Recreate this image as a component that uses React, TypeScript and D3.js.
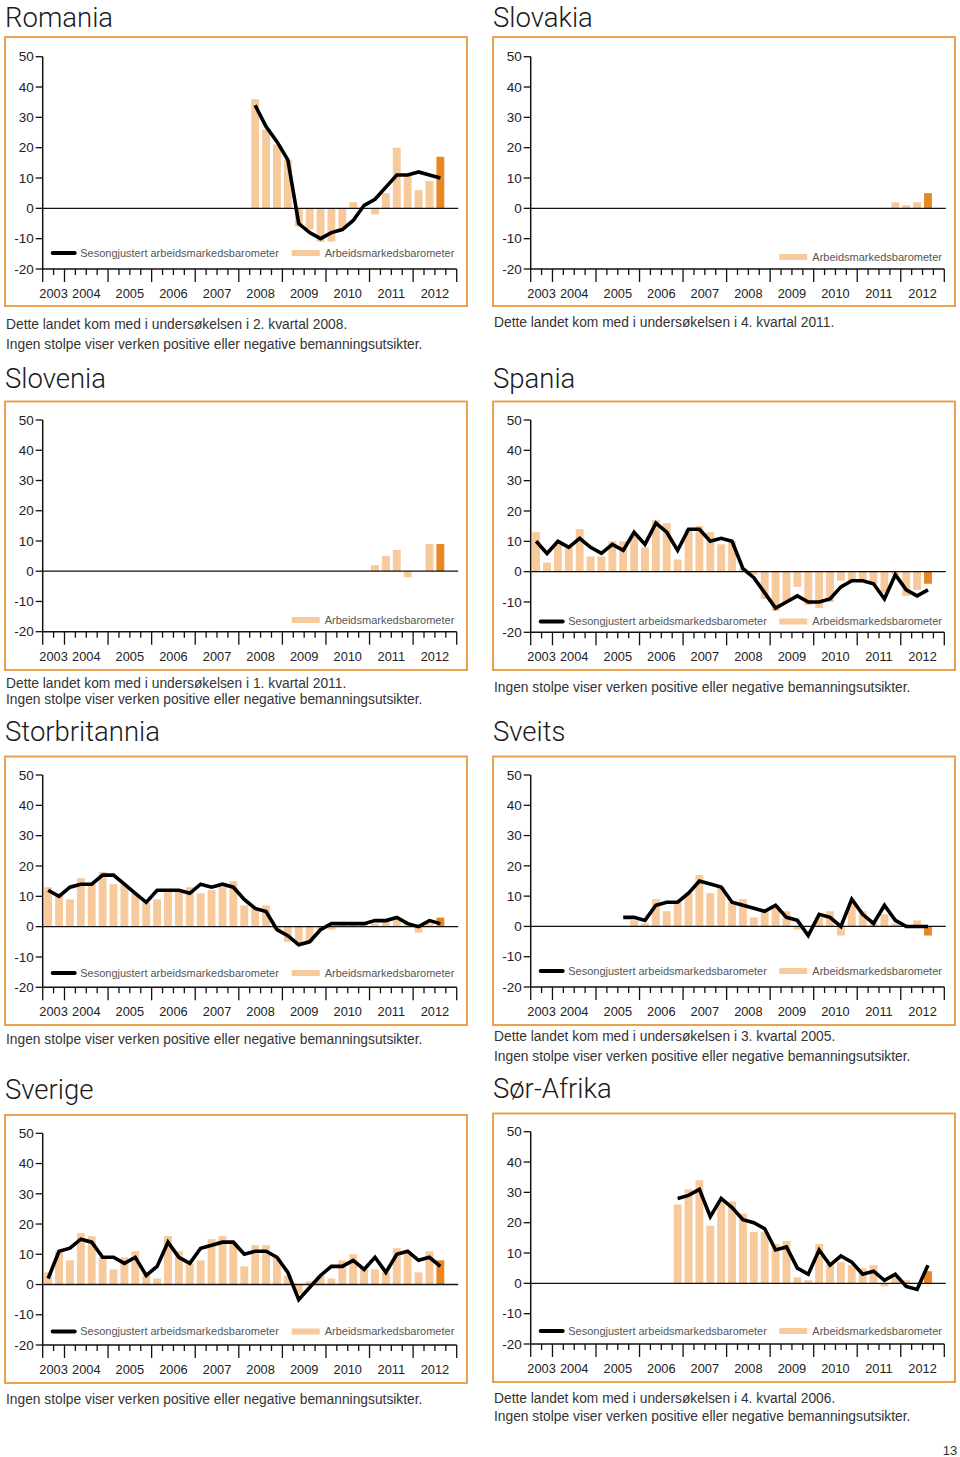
import React from 'react';
import * as d3 from 'd3';

// ---------- shared axis data ----------
const years = ['2003', '2004', '2005', '2006', '2007', '2008', '2009', '2010', '2011', '2012'];
const yearStartSlots = [0, 2, 6, 10, 14, 18, 22, 26, 30, 34, 38];
const yTicks = [50, 40, 30, 20, 10, 0, -10, -20];
const slotCount = 38;

// ---------- series (values per quarter, start = first quarter index) ----------
const romaniaStart = 19;
const romaniaBars = [36, 26, 21, 16, -6, -7, -11, -11, -7, 2, 0, -2, 5, 20, 11, 6, 9, 17];
const romaniaLine = [34, 27, 22, 16, -5, -8, -10, -8, -7, -4, 1, 3, 7, 11, 11, 12, 11, 10];

const slovakiaStart = 33;
const slovakiaBars = [2, 1, 2, 5];

const sloveniaStart = 30;
const sloveniaBars = [2, 5, 7, -2, 0, 9, 9];

const spaniaStart = 0;
const spaniaBars = [13, 3, 9, 8, 14, 5, 5, 10, 10, 12, 8, 17, 16, 4, 14, 15, 13, 9, 10, 1, -1, -9, -13, -10, -5, -11, -12, -10, -3, -3, -3, -4, -7, -1, -8, -6, -4];
const spaniaLine = [10, 6, 10, 8, 11, 8, 6, 9, 7, 13, 9, 16, 13, 7, 14, 14, 10, 11, 10, 1, -2, -7, -12, -10, -8, -10, -10, -9, -5, -3, -3, -4, -9, -1, -6, -8, -6];

const ukStart = 0;
const ukBars = [13, 11, 9, 16, 14, 18, 14, 14, 11, 8, 9, 12, 12, 13, 11, 12, 13, 15, 7, 6, 7, -1, -5, -6, -5, -1, -1, 1, 1, 1, 1, 2, 3, 1, -2, 1, 3];
const ukLine = [12, 10, 13, 14, 14, 17, 17, 14, 11, 8, 12, 12, 12, 11, 14, 13, 14, 13, 9, 6, 5, -1, -3, -6, -5, -1, 1, 1, 1, 1, 2, 2, 3, 1, 0, 2, 1];

const sveitsStart = 8;
const sveitsBars = [0, 2, 1, 9, 5, 8, 11, 17, 11, 13, 8, 9, 3, 5, 7, 5, -1, 0, 3, 5, -3, 8, 5, 1, 4, 1, 0, 2, -3];
const sveitsLine = [3, 3, 2, 7, 8, 8, 11, 15, 14, 13, 8, 7, 6, 5, 7, 3, 2, -3, 4, 3, 0, 9, 4, 1, 7, 2, 0, 0, 0];

const sverigeStart = 0;
const sverigeBars = [4, 11, 8, 17, 16, 9, 5, 9, 11, 3, 2, 16, 11, 7, 8, 15, 16, 14, 6, 13, 13, 9, 3, -3, 1, 3, 2, 8, 10, 5, 5, 4, 12, 11, 4, 11, 8];
const sverigeLine = [2, 11, 12, 15, 14, 9, 9, 7, 9, 3, 6, 14, 9, 7, 12, 13, 14, 14, 10, 11, 11, 9, 4, -5, -1, 3, 6, 6, 8, 5, 9, 4, 10, 11, 8, 9, 6];

const sorAfrikaStart = 13;
const sorAfrikaBars = [26, 31, 34, 19, 27, 27, 23, 17, 17, 13, 14, 2, 1, 13, 6, 7, 6, 5, 6, -1, 2, 1, 0, 4];
const sorAfrikaLine = [28, 29, 31, 22, 28, 25, 21, 20, 18, 11, 12, 5, 3, 11, 6, 9, 7, 3, 4, 1, 3, -1, -2, 6];

// ---------- texts ----------
const legendLineLabel = 'Sesongjustert arbeidsmarkedsbarometer';
const legendBarLabel = 'Arbeidsmarkedsbarometer';
const noteNone = 'Ingen stolpe viser verken positive eller negative bemanningsutsikter.';
const noteJoined = (q: string) => `Dette landet kom med i undersøkelsen i ${q}`;

const FONT = '"Liberation Sans", Arial, Helvetica, sans-serif';
const TITLE_FONT = 'Roboto, "Liberation Sans", Arial, sans-serif';
const BAR = '#f8c99b';
const BAR_LAST = '#e8861f';
const FRAME = '#eaa24e';

type Col = { boxL: number; boxR: number; axL: number; axR: number; titleX: number };
const LEFT: Col = { boxL: 5, boxR: 467, axL: 42.7, axR: 456.7, titleX: 5 };
const RIGHT: Col = { boxL: 493, boxR: 955, axL: 530.7, axR: 944.3, titleX: 493 };

type PanelProps = {
  title: string;
  col: Col;
  titleY: number;
  boxTop: number;
  boxBottom: number;
  yTop: number;
  yBottom: number;
  legendY: number;
  start: number;
  bars: number[];
  line?: number[];
  notes: { text: string; y: number }[];
};

function Panel(p: PanelProps) {
  const { col } = p;
  const x = d3.scaleLinear().domain([0, slotCount]).range([col.axL, col.axR]);
  const y = d3.scaleLinear().domain([-20, 50]).range([p.yBottom, p.yTop]);
  const slotW = x(1) - x(0);
  const barW = slotW * 0.72;
  const lastIdx = 36;

  const lineGen = d3
    .line<number>()
    .x((_, i) => x(p.start + i + 0.5))
    .y((v) => y(v));

  const ticks: { x: number; major: boolean }[] = [];
  for (let s = 0; s <= slotCount; s++) {
    ticks.push({ x: x(s), major: yearStartSlots.includes(s) });
  }

  const legendTextBar = col.axR - 132;
  return (
    <g>
      <text x={col.titleX} y={p.titleY} fontFamily={TITLE_FONT} fontWeight={300} fontSize={27.5} fill="#1a1a1a">
        {p.title}
      </text>
      <rect
        x={col.boxL}
        y={p.boxTop}
        width={col.boxR - col.boxL}
        height={p.boxBottom - p.boxTop}
        fill="#fff"
        stroke={FRAME}
        strokeWidth={2}
      />
      {/* bars */}
      {p.bars.map((v, i) => {
        const slot = p.start + i;
        if (v === 0) return null;
        const cx = x(slot + 0.5);
        return (
          <rect
            key={i}
            x={cx - barW / 2}
            y={Math.min(y(v), y(0))}
            width={barW}
            height={Math.abs(y(v) - y(0))}
            fill={slot === lastIdx ? BAR_LAST : BAR}
          />
        );
      })}
      {/* zero line */}
      <line x1={col.axL} x2={col.axR + 1.5} y1={y(0)} y2={y(0)} stroke="#111" strokeWidth={1.3} />
      {/* y axis */}
      <line x1={col.axL} x2={col.axL} y1={y(50)} y2={y(-20)} stroke="#111" strokeWidth={1.5} />
      {yTicks.map((t) => (
        <g key={t}>
          <line x1={col.axL - 7} x2={col.axL} y1={y(t)} y2={y(t)} stroke="#111" strokeWidth={1.3} />
          <text
            x={col.axL - 9}
            y={y(t)}
            dy="0.35em"
            textAnchor="end"
            fontFamily={FONT}
            fontSize={13.5}
            fill="#222"
          >
            {t}
          </text>
        </g>
      ))}
      {/* x axis */}
      <line x1={col.axL} x2={col.axR} y1={y(-20)} y2={y(-20)} stroke="#111" strokeWidth={1.5} />
      {ticks.map((t, i) => (
        <line
          key={i}
          x1={t.x}
          x2={t.x}
          y1={y(-20)}
          y2={y(-20) + (t.major ? 13 : 6)}
          stroke="#111"
          strokeWidth={1.3}
        />
      ))}
      {years.map((yr, i) => (
        <text
          key={yr}
          x={(x(yearStartSlots[i]) + x(yearStartSlots[i + 1])) / 2}
          y={y(-20) + 29}
          textAnchor="middle"
          fontFamily={FONT}
          fontSize={12.8}
          fill="#222"
        >
          {yr}
        </text>
      ))}
      {/* line */}
      {p.line && (
        <path d={lineGen(p.line) || ''} fill="none" stroke="#000" strokeWidth={3.6} strokeLinejoin="miter" />
      )}
      {/* legend */}
      {p.line && (
        <g>
          <line
            x1={col.axL + 10}
            x2={col.axL + 32}
            y1={p.legendY}
            y2={p.legendY}
            stroke="#000"
            strokeWidth={4}
            strokeLinecap="round"
          />
          <text x={col.axL + 37.5} y={p.legendY} dy="0.35em" fontFamily={FONT} fontSize={11} fill="#555">
            {legendLineLabel}
          </text>
        </g>
      )}
      <rect x={legendTextBar - 33} y={p.legendY - 3} width={28} height={6} fill={BAR} />
      <text x={legendTextBar} y={p.legendY} dy="0.35em" fontFamily={FONT} fontSize={11} fill="#555">
        {legendBarLabel}
      </text>
      {/* notes */}
      {p.notes.map((n, i) => (
        <text key={i} x={col.titleX + 1} y={n.y} dy="0.35em" fontFamily={FONT} fontSize={13.8} fill="#333">
          {n.text}
        </text>
      ))}
    </g>
  );
}

export default function App() {
  return (
    <svg
      width={960}
      height={1457}
      viewBox="0 0 960 1457"
      style={{ position: 'absolute', left: 0, top: 0, background: '#fff' }}
    >
      <Panel
        title="Romania"
        col={LEFT}
        titleY={27}
        boxTop={37}
        boxBottom={306}
        yTop={56.7}
        yBottom={269}
        legendY={253}
        start={romaniaStart}
        bars={romaniaBars}
        line={romaniaLine}
        notes={[
          { text: noteJoined('2. kvartal 2008.'), y: 324 },
          { text: noteNone, y: 344 },
        ]}
      />
      <Panel
        title="Slovakia"
        col={RIGHT}
        titleY={27}
        boxTop={37}
        boxBottom={306}
        yTop={56.7}
        yBottom={269}
        legendY={257}
        start={slovakiaStart}
        bars={slovakiaBars}
        notes={[{ text: noteJoined('4. kvartal 2011.'), y: 322 }]}
      />
      <Panel
        title="Slovenia"
        col={LEFT}
        titleY={388}
        boxTop={401.5}
        boxBottom={670}
        yTop={420}
        yBottom={631.7}
        legendY={620}
        start={sloveniaStart}
        bars={sloveniaBars}
        notes={[
          { text: noteJoined('1. kvartal 2011.'), y: 683 },
          { text: noteNone, y: 699 },
        ]}
      />
      <Panel
        title="Spania"
        col={RIGHT}
        titleY={388}
        boxTop={401.5}
        boxBottom={670}
        yTop={420}
        yBottom={632.3}
        legendY={621.5}
        start={spaniaStart}
        bars={spaniaBars}
        line={spaniaLine}
        notes={[{ text: noteNone, y: 687 }]}
      />
      <Panel
        title="Storbritannia"
        col={LEFT}
        titleY={741}
        boxTop={756.5}
        boxBottom={1025}
        yTop={775}
        yBottom={987.3}
        legendY={973}
        start={ukStart}
        bars={ukBars}
        line={ukLine}
        notes={[{ text: noteNone, y: 1039 }]}
      />
      <Panel
        title="Sveits"
        col={RIGHT}
        titleY={741}
        boxTop={756.5}
        boxBottom={1025}
        yTop={775}
        yBottom={987}
        legendY={971}
        start={sveitsStart}
        bars={sveitsBars}
        line={sveitsLine}
        notes={[
          { text: noteJoined('3. kvartal 2005.'), y: 1036 },
          { text: noteNone, y: 1056 },
        ]}
      />
      <Panel
        title="Sverige"
        col={LEFT}
        titleY={1099}
        boxTop={1115}
        boxBottom={1383}
        yTop={1133.3}
        yBottom={1345}
        legendY={1331.5}
        start={sverigeStart}
        bars={sverigeBars}
        line={sverigeLine}
        notes={[{ text: noteNone, y: 1399 }]}
      />
      <Panel
        title="Sør-Afrika"
        col={RIGHT}
        titleY={1098}
        boxTop={1113.5}
        boxBottom={1382}
        yTop={1131.7}
        yBottom={1344}
        legendY={1331}
        start={sorAfrikaStart}
        bars={sorAfrikaBars}
        line={sorAfrikaLine}
        notes={[
          { text: noteJoined('4. kvartal 2006.'), y: 1398 },
          { text: noteNone, y: 1416 },
        ]}
      />
      <text x={950} y={1450} dy="0.35em" textAnchor="middle" fontFamily={FONT} fontSize={13} fill="#333">
        13
      </text>
    </svg>
  );
}
